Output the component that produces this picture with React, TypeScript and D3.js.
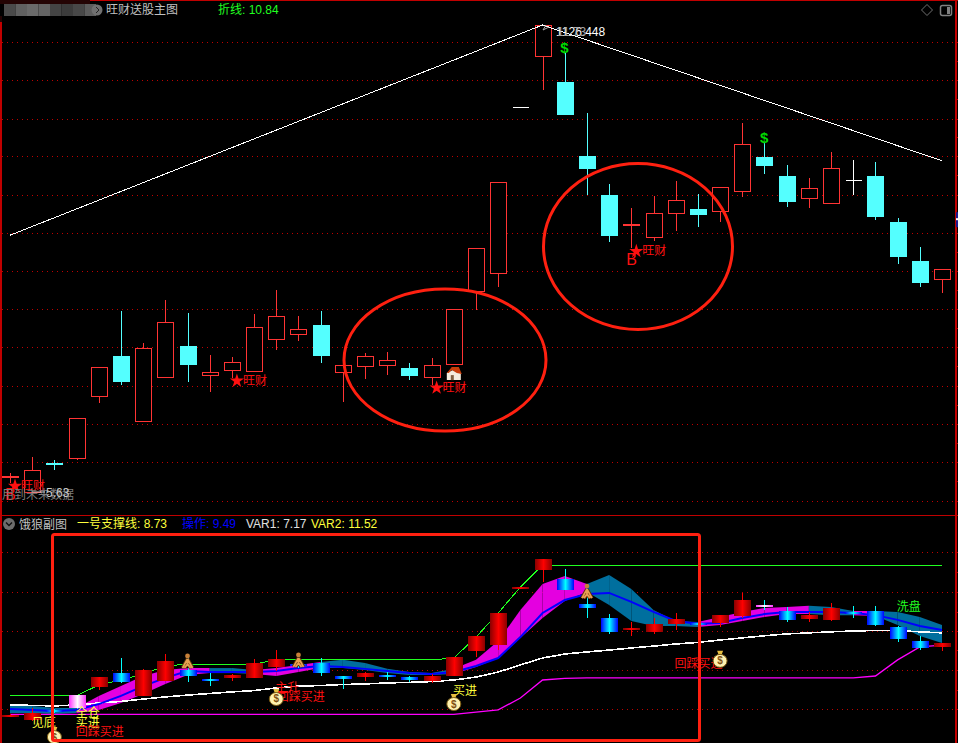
import * as d3 from 'd3';
import { useEffect, useRef } from 'react';

const opens = [5.84, 5.64, 6.02, 6.09, 6.89, 7.42, 6.57, 7.14, 7.55, 7.17, 7.23, 7.22, 7.64, 7.70, 7.82, 7.21, 7.29, 7.30, 7.26, 7.14, 7.31, 8.26, 8.50, 10.67, 11.33, 10.99, 10.02, 9.51, 9.12, 8.97, 9.28, 9.33, 9.31, 9.57, 10.01, 9.76, 9.48, 9.42, 9.72, 9.76, 9.16, 8.65, 8.42];
const closes = [5.85, 5.93, 6.01, 6.61, 7.27, 7.09, 7.52, 7.86, 7.32, 7.21, 7.34, 7.79, 7.94, 7.77, 7.43, 7.30, 7.42, 7.36, 7.17, 7.30, 8.03, 8.82, 9.68, 10.67, 11.73, 10.57, 9.87, 8.99, 9.13, 9.28, 9.45, 9.27, 9.62, 10.18, 9.91, 9.44, 9.61, 9.87, 9.72, 9.24, 8.72, 8.38, 8.55];
const highs = [5.89, 6.10, 6.06, 6.61, 7.27, 8.00, 7.59, 8.15, 7.98, 7.43, 7.40, 7.96, 8.28, 7.94, 8.00, 7.30, 7.45, 7.47, 7.32, 7.39, 8.03, 8.82, 9.68, 10.67, 11.73, 11.37, 10.58, 9.66, 9.34, 9.50, 9.70, 9.53, 9.62, 10.45, 10.20, 9.91, 9.74, 10.07, 9.97, 9.94, 9.21, 8.84, 8.55];
const lows = [5.76, 5.63, 5.93, 6.06, 6.80, 7.04, 6.57, 7.13, 7.08, 6.95, 7.13, 7.22, 7.49, 7.61, 7.32, 6.82, 7.12, 7.17, 7.10, 7.04, 7.31, 8.02, 8.31, 10.67, 10.88, 10.57, 9.51, 8.90, 8.82, 8.91, 9.04, 9.10, 9.16, 9.49, 9.79, 9.36, 9.34, 9.40, 9.51, 9.19, 8.61, 8.31, 8.24];
// 副图 K 线的配色 R 红 B 蓝 P 粉
const subTones = 'RRBPRBRRBBRRRBBBRBBRRRRRRBBBRRRBRRPBRRBBBBR'.split('');

const mainGridLevels = [11.51, 11.01, 10.51, 10.02, 9.52, 9.02, 8.52, 8.03, 7.53, 7.03, 6.53, 6.03, 5.53];
const subGridLevels = [11.99, 10.48, 9.01, 7.54, 6.06];
const zigzag: [number, number][] = [[0, 8.99], [24, 11.73], [42, 9.96]];

const supportLine = [6.22, 6.20, 6.18, 6.22, 6.29, 6.35, 6.44, 6.52, 6.59, 6.65, 6.71, 6.76, 6.86, 6.93, 6.95, 6.99, 7.01, 7.05, 7.07, 7.10, 7.16, 7.27, 7.46, 7.73, 7.99, 8.14, 8.22, 8.29, 8.37, 8.44, 8.52, 8.58, 8.67, 8.75, 8.83, 8.90, 8.94, 8.98, 9.01, 9.03, 9.03, 8.98, 8.94];
const floorLine = [5.86, 5.86, 5.86, 5.86, 5.86, 5.86, 5.86, 5.86, 5.86, 5.86, 5.86, 5.86, 5.86, 5.86, 5.86, 5.86, 5.86, 5.86, 5.86, 5.86, 5.86, 5.95, 6.03, 6.48, 7.16, 7.22, 7.24, 7.24, 7.24, 7.24, 7.24, 7.24, 7.24, 7.24, 7.24, 7.24, 7.24, 7.24, 7.24, 7.31, 7.92, 8.41, 8.48];
const pressureLine = [6.57, 6.57, 6.57, 6.57, 6.97, 7.16, 7.39, 7.69, 7.76, 7.76, 7.76, 7.76, 7.92, 7.92, 7.92, 7.92, 7.92, 7.92, 7.92, 7.92, 7.99, 8.78, 9.69, 10.67, 11.50, 11.50, 11.50, 11.50, 11.50, 11.50, 11.50, 11.50, 11.50, 11.50, 11.50, 11.50, 11.50, 11.50, 11.50, 11.50, 11.50, 11.50, 11.50];
const bandTop = [6.22, 6.18, 6.10, 6.10, 6.56, 6.93, 7.31, 7.54, 7.61, 7.61, 7.61, 7.54, 7.61, 7.73, 7.84, 7.92, 7.80, 7.58, 7.46, 7.42, 7.58, 7.92, 8.63, 9.80, 10.79, 11.09, 10.79, 11.13, 10.60, 9.80, 9.39, 9.35, 9.54, 9.73, 9.88, 9.92, 9.96, 9.92, 9.77, 9.77, 9.73, 9.54, 9.24];
const bandBottom = [5.91, 5.91, 5.88, 5.91, 6.03, 6.29, 6.63, 7.01, 7.35, 7.42, 7.42, 7.39, 7.31, 7.46, 7.61, 7.61, 7.54, 7.42, 7.35, 7.35, 7.39, 7.65, 7.99, 8.75, 9.50, 10.14, 10.48, 9.99, 9.39, 9.20, 9.20, 9.16, 9.24, 9.39, 9.54, 9.65, 9.65, 9.61, 9.61, 9.58, 9.24, 8.82, 8.56];
const bandTones = 'TTTMMMMMMTTMMMTTTTTTMMMMMMTTTTTMMMMMTTMTTT'.split('');
const ctrlLine = [6.06, 6.03, 5.99, 6.03, 6.25, 6.56, 6.93, 7.24, 7.50, 7.46, 7.46, 7.46, 7.50, 7.61, 7.69, 7.65, 7.58, 7.50, 7.42, 7.39, 7.46, 7.69, 7.99, 8.78, 9.69, 10.18, 10.41, 10.45, 10.11, 9.73, 9.39, 9.28, 9.31, 9.50, 9.65, 9.73, 9.73, 9.73, 9.69, 9.61, 9.43, 9.20, 9.05];

const starSignals = [0, 10, 19, 28];
const buySignals = [0, 28];
const dollarSignals = [25, 34];
const houseSignals = [20];
const titleBlocks = ['#4a4a4a', '#606060', '#6a6a6a', '#646464', '#444444', '#3c3c3c', '#484848', '#5c5c5c'];

type Note = { text: string; i: number; price: number; color: string };
const subNotes: Note[] = [
    { text: '见底', i: 1.52, price: 5.57, color: '#ffff3c' },
    { text: '全仓', i: 3.5, price: 5.95, color: '#ffff3c' },
    { text: '买进', i: 3.5, price: 5.57, color: '#ffff3c' },
    { text: '回踩买进', i: 4.05, price: 5.23, color: '#ff1010' },
    { text: '主升', i: 12.5, price: 6.86, color: '#ff1010' },
    { text: '回踩买进', i: 13.1, price: 6.52, color: '#ff1010' },
    { text: '买进', i: 20.5, price: 6.78, color: '#ffff3c' },
    { text: '回踩买进', i: 31.03, price: 7.8, color: '#ff1010' },
    { text: '洗盘', i: 40.5, price: 9.95, color: '#20ff20' },
];
const bagMarks: [number, number][] = [[2, 5.04], [12, 6.48], [20, 6.29], [32, 7.92]];
const walkerMarks: [number, number][] = [[8, 7.84], [13, 7.88], [26, 10.48]];

const FONT = '"Liberation Sans", "Noto Sans CJK SC", sans-serif';
const RED = '#ff3434';
const CYAN = '#54ffff';
const FRAME = '#c00000';

export default function App() {
    const chartRef = useRef<SVGSVGElement | null>(null);

    useEffect(() => {
        if (!chartRef.current) return;
        const svg = d3.select(chartRef.current);
        svg.selectAll('*').remove();

        const x = d3.scaleLinear().domain([0, 42]).range([10, 942]);
        const y = d3.scaleLinear().domain([5.63, 11.73]).range([493, 25]);
        const ySub = d3.scaleLinear().domain([5.63, 11.73]).range([720.5, 559]);
        const idx = d3.range(opens.length);

        const defs = svg.append('defs');
        const gradient = (id: string, edge: string, mid: string) => {
            const g = defs.append('linearGradient').attr('id', id);
            g.append('stop').attr('offset', '0%').attr('stop-color', edge);
            g.append('stop').attr('offset', '50%').attr('stop-color', mid);
            g.append('stop').attr('offset', '100%').attr('stop-color', edge);
        };
        gradient('tone-R', '#8a0000', '#ff0000');
        gradient('tone-B', '#0000ff', '#00ffff');
        gradient('tone-P', '#ff30ff', '#ffffff');

        const label = (tx: number, ty: number, text: string, color: string, size = 12) =>
            svg
                .append('text')
                .attr('x', tx)
                .attr('y', ty)
                .attr('fill', color)
                .attr('font-size', size)
                .attr('font-family', FONT)
                .text(text);

        // 网格
        const grid = (levels: number[], scale: d3.ScaleLinear<number, number>) => {
            svg.append('g')
                .selectAll('line')
                .data(levels)
                .join('line')
                .attr('x1', 2)
                .attr('x2', 955)
                .attr('y1', (d) => Math.round(scale(d)) + 0.5)
                .attr('y2', (d) => Math.round(scale(d)) + 0.5)
                .attr('stroke', '#c00000')
                .attr('stroke-dasharray', '1 4');
        };
        grid(mainGridLevels, y);
        grid(subGridLevels, ySub);

        // 主图 K 线
        const wickTone = (i: number) =>
            closes[i] > opens[i] ? RED : closes[i] < opens[i] ? CYAN : '#ffffff';
        const main = svg.append('g').attr('shape-rendering', 'crispEdges');
        main.selectAll('line')
            .data(idx)
            .join('line')
            .attr('x1', (i) => Math.round(x(i)) + 0.5)
            .attr('x2', (i) => Math.round(x(i)) + 0.5)
            .attr('y1', (i) => y(highs[i]))
            .attr('y2', (i) => y(lows[i]))
            .attr('stroke', wickTone);
        main.selectAll('rect')
            .data(idx)
            .join('rect')
            .attr('x', (i) => Math.round(x(i)) - 7.5)
            .attr('width', 16)
            .attr('y', (i) => Math.round(y(Math.max(opens[i], closes[i]))) + 0.5)
            .attr('height', (i) => Math.max(1, Math.round(Math.abs(y(opens[i]) - y(closes[i])))))
            .attr('fill', (i) => (closes[i] < opens[i] ? CYAN : closes[i] > opens[i] ? '#000' : '#fff'))
            .attr('stroke', (i) => (closes[i] > opens[i] ? RED : closes[i] < opens[i] ? CYAN : 'none'))
            .attr('stroke-width', 1);

        // 折线
        svg.append('path')
            .attr(
                'd',
                d3
                    .line<[number, number]>()
                    .x((d) => x(d[0]))
                    .y((d) => y(d[1]))(zigzag),
            )
            .attr('fill', 'none')
            .attr('stroke', '#ffffff')
            .attr('stroke-width', 1)
            .attr('shape-rendering', 'crispEdges');

        // 信号
        starSignals.forEach((i) => {
            const px = x(i) + 5;
            const py = y(lows[i]) + 3;
            svg.append('path')
                .attr('d', d3.symbol(d3.symbolStar, 62)())
                .attr('transform', `translate(${px},${py})`)
                .attr('fill', '#ff1010');
            label(px + 6, py + 4, '旺财', '#ff1010');
        });
        buySignals.forEach((i) => {
            label(x(i) - 5, y(lows[i]) + 17, 'B', '#ff1010', 16);
        });
        dollarSignals.forEach((i) => {
            label(x(i) - 4.5, y(highs[i]) + 0.5, '$', '#00d800', 15).attr('font-weight', 'bold');
        });
        houseSignals.forEach((i) => {
            const g = svg
                .append('g')
                .attr('transform', `translate(${x(i)},${y(lows[i]) + 10})`);
            g.append('path').attr('d', 'M-7,-1 L-7,6 L7,6 L7,-1 L-1,-4 Z').attr('fill', '#f4ecdc');
            g.append('path').attr('d', 'M-7,-1 L-2,-7 L5,-7 L8,0 L3,-1 L-2,-4 L-5,-1 Z').attr('fill', '#c83c08');
            g.append('rect').attr('x', -3).attr('y', 1).attr('width', 3).attr('height', 5).attr('fill', '#806040');
        });

        // 高低点文字
        label(556, 36, '1126.448', '#ffffff');
        label(557, 36, '11.73', '#a8a8a8');
        svg.append('path').attr('d', 'M543,30 L546,25 M543,30 L549,27').attr('stroke', '#a8a8a8').attr('fill', 'none');
        label(2, 499, '用到未来数据', '#7c7c7c');
        svg.append('path').attr('d', 'M32,492 H45').attr('stroke', '#d0d0d0');
        label(46, 497, '5.63', '#c8c8c8');

        // 顶部标题
        svg.append('g')
            .selectAll('rect')
            .data(titleBlocks)
            .join('rect')
            .attr('x', (_, i) => 4 + i * 11.5)
            .attr('y', 4)
            .attr('width', 11.5)
            .attr('height', 12)
            .attr('fill', (d) => d);
        svg.append('rect').attr('x', 0).attr('y', 0).attr('width', 90).attr('height', 4).attr('fill', '#240404');
        svg.append('rect').attr('x', 0).attr('y', 16).attr('width', 2).attr('height', 6).attr('fill', '#240404');
        svg.append('circle').attr('cx', 97).attr('cy', 10).attr('r', 5.5).attr('fill', '#707070');
        svg.append('path').attr('d', 'M96,7 L99,10 L96,13').attr('stroke', '#222').attr('fill', 'none');
        label(106, 14, '旺财送股主图', '#c0c0c0');
        label(218, 14, '折线: 10.84', '#20ff20');
        svg.append('path').attr('d', 'M927,4.5 L932.5,10 L927,15.5 L921.5,10 Z').attr('fill', 'none').attr('stroke', '#707070');
        svg.append('rect').attr('x', 940.5).attr('y', 5.5).attr('width', 11).attr('height', 10).attr('rx', 2).attr('fill', 'none').attr('stroke', '#808080').attr('stroke-width', 1.5);
        svg.append('rect').attr('x', 947).attr('y', 7).attr('width', 3).attr('height', 7).attr('fill', '#808080');

        // 副图标题
        svg.append('circle').attr('cx', 9).attr('cy', 524).attr('r', 6).attr('fill', '#6c6c6c');
        svg.append('path').attr('d', 'M6,522.5 L9,525.5 L12,522.5').attr('stroke', '#111').attr('stroke-width', 1.4).attr('fill', 'none');
        label(19, 529, '饿狼副图', '#c0c0c0');
        label(77, 528, '一号支撑线: 8.73', '#ffff3c');
        label(182, 528, '操作: 9.49', '#0000ff');
        label(246, 528, 'VAR1: 7.17', '#e0e0e0');
        label(311, 528, 'VAR2: 11.52', '#ffff3c');

        // 副图彩带
        const band = d3
            .area<number>()
            .x((i) => x(i))
            .y0((i) => ySub(bandBottom[i]))
            .y1((i) => ySub(bandTop[i]));
        const bandGroup = svg.append('g');
        d3.pairs(idx).forEach((pair) => {
            bandGroup
                .append('path')
                .attr('d', band(pair))
                .attr('fill', bandTones[pair[0]] === 'M' ? '#e400e0' : '#006f9e');
        });

        const subLine = (values: number[], color: string, width: number, crisp = false) => {
            const p = svg
                .append('path')
                .attr(
                    'd',
                    d3
                        .line<number>()
                        .x((d, i) => x(i))
                        .y((d) => ySub(d))(values),
                )
                .attr('fill', 'none')
                .attr('stroke', color)
                .attr('stroke-width', width);
            if (crisp) p.attr('shape-rendering', 'crispEdges');
        };
        subLine(pressureLine, '#20ff20', 1, true);
        subLine(supportLine, '#ffffff', 1.6, true);
        subLine(floorLine, '#ff00ff', 1.3);
        subLine(ctrlLine, '#0000ff', 2);

        // 副图 K 线
        const sub = svg.append('g').attr('shape-rendering', 'crispEdges');
        sub.selectAll('line')
            .data(idx)
            .join('line')
            .attr('x1', (i) => Math.round(x(i)) + 0.5)
            .attr('x2', (i) => Math.round(x(i)) + 0.5)
            .attr('y1', (i) => ySub(highs[i]))
            .attr('y2', (i) => ySub(lows[i]))
            .attr('stroke', (i) => (subTones[i] === 'R' ? '#ff0000' : '#00ffff'));
        sub.selectAll('rect')
            .data(idx)
            .join('rect')
            .attr('x', (i) => Math.round(x(i)) - 8)
            .attr('width', 17)
            .attr('y', (i) => ySub(Math.max(opens[i], closes[i])))
            .attr('height', (i) => Math.max(2, Math.abs(ySub(opens[i]) - ySub(closes[i]))))
            .attr('fill', (i) => `url(#tone-${subTones[i]})`);

        // 副图图标
        walkerMarks.forEach(([i, price]) => {
            const g = svg.append('g').attr('transform', `translate(${x(i)},${ySub(price)})`);
            const body = 'M0,-3 L-5,6 M0,-3 L5,6 M0,-3 L0,2 L-3,6 M0,2 L3,6';
            g.append('path').attr('d', body).attr('stroke', '#5a3008').attr('stroke-width', 3.6).attr('fill', 'none');
            g.append('path').attr('d', body).attr('stroke', '#e8a050').attr('stroke-width', 1.8).attr('fill', 'none');
            g.append('circle').attr('cx', 0).attr('cy', -6).attr('r', 2.4).attr('fill', '#c88038');
        });
        subNotes.forEach((n) => {
            label(x(n.i), ySub(n.price) + 4.5, n.text, n.color).attr('text-anchor', 'middle');
        });
        bagMarks.forEach(([i, price]) => {
            const g = svg.append('g').attr('transform', `translate(${x(i)},${ySub(price)})`);
            g.append('path').attr('d', 'M-3,-9 L3,-9 L1.5,-5 L-1.5,-5 Z').attr('fill', '#e8c040');
            g.append('ellipse').attr('cy', 1).attr('rx', 7).attr('ry', 6.5).attr('fill', '#fff2b0').attr('stroke', '#7a5a10');
            g.append('text')
                .attr('y', 4.5)
                .attr('text-anchor', 'middle')
                .attr('font-size', 10)
                .attr('font-weight', 'bold')
                .attr('font-family', FONT)
                .attr('fill', '#805010')
                .text('$');
        });

        // 手绘标注
        const marker = svg.append('g').attr('fill', 'none').attr('stroke', '#ff2010').attr('stroke-width', 3);
        marker.append('ellipse').attr('cx', 445).attr('cy', 360).attr('rx', 101).attr('ry', 71);
        marker.append('ellipse').attr('cx', 638).attr('cy', 246.5).attr('rx', 94.5).attr('ry', 83);
        marker.append('rect').attr('x', 52.5).attr('y', 534.5).attr('width', 647).attr('height', 206).attr('rx', 2);

        // 边框与右侧刻度
        const border = svg.append('g').attr('shape-rendering', 'crispEdges').attr('stroke', FRAME);
        border.append('path').attr('d', 'M90,0.5 H958').attr('stroke-width', 1);
        border.append('path').attr('d', 'M0.5,22 V743').attr('stroke-width', 2);
        border.append('path').attr('d', 'M955.5,0 V743').attr('stroke-width', 2);
        border.append('path').attr('d', 'M0,515.5 H958').attr('stroke-width', 1);

        const rightTicks = (levels: number[], scale: d3.ScaleLinear<number, number>) => {
            const mids = d3.pairs(levels).map(([a, b]) => (a + b) / 2);
            const axis = svg
                .append('g')
                .attr('transform', 'translate(955,0)')
                .attr('shape-rendering', 'crispEdges')
                .call(
                    d3
                        .axisRight(scale)
                        .tickValues([...levels, ...mids])
                        .tickSize(3)
                        .tickFormat(() => ''),
                );
            axis.select('.domain').remove();
            axis.selectAll('line').attr('stroke', FRAME);
        };
        rightTicks(mainGridLevels, y);
        rightTicks(subGridLevels, ySub);

        svg.append('rect').attr('x', 956).attr('y', y(9.29)).attr('width', 2).attr('height', 15).attr('fill', '#1a1a90');
        svg.append('rect').attr('x', 956).attr('y', y(9.29) + 6).attr('width', 2).attr('height', 2).attr('fill', '#ffffff');
    }, []);

    return (
        <svg
            ref={chartRef}
            width={958}
            height={743}
            style={{ position: 'fixed', left: 0, top: 0, background: '#000', display: 'block' }}
        />
    );
}
